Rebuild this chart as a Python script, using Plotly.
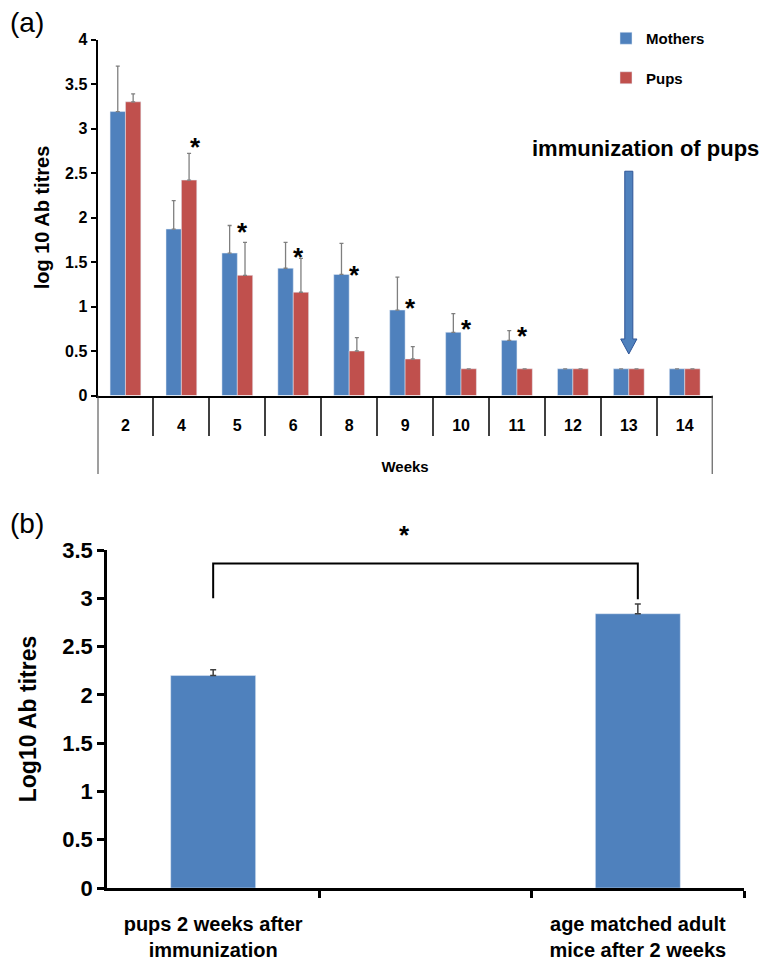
import plotly.graph_objects as go

# ---------------- data ----------------
weeks = ["2", "4", "5", "6", "8", "9", "10", "11", "12", "13", "14"]
mothers = [3.19, 1.87, 1.60, 1.43, 1.36, 0.96, 0.71, 0.62, 0.30, 0.30, 0.30]
mothers_err = [0.51, 0.32, 0.31, 0.29, 0.35, 0.37, 0.21, 0.11, 0.0, 0.0, 0.0]
pups = [3.30, 2.42, 1.35, 1.16, 0.50, 0.41, 0.30, 0.30, 0.30, 0.30, 0.30]
pups_err = [0.09, 0.30, 0.37, 0.38, 0.15, 0.14, 0.0, 0.0, 0.0, 0.0, 0.0]
star_weeks = ["4", "5", "6", "8", "9", "10", "11"]
star_y = [2.86, 1.90, 1.62, 1.42, 1.05, 0.82, 0.74]
immunization_week = "13"

b_groups = ["pups 2 weeks after<br>immunization", "", "age matched adult<br>mice after 2 weeks"]
b_values = [2.20, None, 2.84]
b_err = [0.06, None, 0.10]
b_bracket_top = 3.36
b_bracket_leg = 3.0
b_star_y = 3.72

BLUE = "#4F81BD"
RED = "#C0504D"
FONT = "Liberation Sans"
W, H = 766, 960


def py(p):
    return 1 - p / H


def px(p):
    return p / W


xa = list(range(len(weeks)))
xb = list(range(len(b_groups)))

fig = go.Figure()
fig.add_trace(go.Bar(
    x=xa, y=mothers, name="Mothers", marker_color=BLUE, legendgroup="m",
    error_y=dict(type="data", array=mothers_err, arrayminus=[0] * len(weeks),
                 color="#7f7f7f", thickness=1.3, width=2),
    xaxis="x", yaxis="y"))
fig.add_trace(go.Bar(
    x=xa, y=pups, name="Pups", marker_color=RED, legendgroup="p",
    error_y=dict(type="data", array=pups_err, arrayminus=[0] * len(weeks),
                 color="#7f7f7f", thickness=1.3, width=2),
    xaxis="x", yaxis="y"))
fig.add_trace(go.Bar(
    x=xb, y=b_values, marker_color=BLUE, showlegend=False, width=0.4,
    error_y=dict(type="data", array=b_err, arrayminus=[0, 0, 0],
                 color="#404040", thickness=1.5, width=3),
    xaxis="x2", yaxis="y2"))

tickfont_a = dict(family=FONT, size=16, color="black", weight="bold")
fig.update_layout(
    width=W, height=H, margin=dict(l=0, r=0, t=0, b=0, autoexpand=False),
    paper_bgcolor="white", plot_bgcolor="white",
    barmode="group", bargap=0.45, bargroupgap=0,
    showlegend=True,
    legend=dict(x=px(606), y=py(22), xanchor="left", yanchor="top",
                font=dict(family=FONT, size=15, color="black", weight="bold"),
                tracegroupgap=17, itemwidth=30, bgcolor="rgba(0,0,0,0)"),
    xaxis=dict(domain=[px(97.5), px(712.7)], range=[-0.5, len(weeks) - 0.5],
               automargin=False,
               tickmode="array", tickvals=xa, ticktext=weeks, ticks="",
               ticklabelstandoff=14, tickfont=tickfont_a,
               showline=True, linecolor="black", linewidth=2, showgrid=False,
               zeroline=False, anchor="y",
               minor=dict(tickmode="array", tickvals=[i + 0.5 for i in xa[:-1]],
                          ticks="outside", ticklen=38, tickwidth=2,
                          tickcolor="#404040", showgrid=False),
               title=dict(text="Weeks", standoff=29,
                          font=dict(family=FONT, size=15, color="black", weight="bold"))),
    yaxis=dict(domain=[py(395.5), py(39.5)], range=[0, 4], dtick=0.5,
               automargin=False, tickformat="~g",
               ticks="outside", ticklen=5, tickwidth=2, tickcolor="black",
               tickfont=tickfont_a, showline=True, linecolor="black", linewidth=2,
               showgrid=False, zeroline=False, anchor="x",
               title=dict(text="log 10 Ab titres", standoff=10,
                          font=dict(family=FONT, size=20, color="black", weight="bold"))),
    xaxis2=dict(domain=[px(107), px(744)], range=[-0.5, len(b_groups) - 0.5],
                automargin=False,
                tickmode="array", tickvals=xb, ticktext=b_groups, ticks="",
                ticklabelstandoff=16,
                tickfont=dict(family=FONT, size=20, color="black", weight="bold"),
                showline=True, linecolor="black", linewidth=2.5, showgrid=False,
                zeroline=False, anchor="y2",
                minor=dict(tickmode="array", tickvals=[i + 0.5 for i in xb],
                           ticks="outside", ticklen=7, tickwidth=2.5,
                           tickcolor="black", showgrid=False)),
    yaxis2=dict(domain=[py(888), py(550)], range=[0, 3.5], dtick=0.5,
                automargin=False, tickformat="~g",
                ticks="outside", ticklen=7, tickwidth=2.5, tickcolor="black",
                tickfont=dict(family=FONT, size=22, color="black", weight="bold"),
                showline=True, linecolor="black", linewidth=2.5, showgrid=False,
                zeroline=False, anchor="x2",
                title=dict(text="Log10 Ab titres", standoff=20,
                           font=dict(family=FONT, size=23, color="black", weight="bold"))),
)

# outer category-box lines of panel (a)
for xv in (-0.5, len(weeks) - 0.5):
    fig.add_shape(type="line", xref="x", yref="paper", x0=xv, x1=xv,
                  y0=py(474), y1=py(395.5), line=dict(color="#404040", width=2))

# significance stars panel (a)
star_dx = {"4": 0.25}
for w, sy in zip(star_weeks, star_y):
    i = weeks.index(w)
    fig.add_annotation(x=i + star_dx.get(w, 0.1), y=sy, xref="x", yref="y",
                       text="*", showarrow=False, yshift=-6,
                       font=dict(family=FONT, size=26, color="black", weight="bold"))

# immunization arrow + label
ia = weeks.index(immunization_week)
shaft, head = 0.072, 0.145
y_top, y_head, y_tip = 2.52, 0.635, 0.466
path = (f"M {ia - shaft},{y_top} L {ia + shaft},{y_top} L {ia + shaft},{y_head} "
        f"L {ia + head},{y_head} L {ia},{y_tip} L {ia - head},{y_head} "
        f"L {ia - shaft},{y_head} Z")
fig.add_shape(type="path", xref="x", yref="y", path=path,
              fillcolor=BLUE, line=dict(color="#2F5597", width=1))
fig.add_annotation(x=ia + 0.29, y=2.78, xref="x", yref="y",
                   text="immunization of pups", showarrow=False,
                   font=dict(family=FONT, size=22, color="black", weight="bold"))

# bracket + star panel (b)
i0, i2 = 0, len(b_groups) - 1
fig.add_shape(type="path", xref="x2", yref="y2",
              path=f"M {i0},{b_bracket_leg} L {i0},{b_bracket_top} L {i2},{b_bracket_top} L {i2},{b_bracket_leg - 0.01}",
              line=dict(color="black", width=2))
y2dom = fig.layout.yaxis2.domain
star_b_paper = y2dom[0] + (y2dom[1] - y2dom[0]) * b_star_y / 3.5
fig.add_annotation(x=(i0 + i2) / 2 - 0.1, y=star_b_paper, xref="x2", yref="paper",
                   text="*", showarrow=False, yshift=-6,
                   font=dict(family=FONT, size=26, color="black", weight="bold"))

# panel labels
fig.add_annotation(x=px(8), y=py(22), xref="paper", yref="paper", text="(a)",
                   showarrow=False, xanchor="left", yanchor="middle",
                   font=dict(family=FONT, size=28, color="black"))
fig.add_annotation(x=px(8), y=py(523), xref="paper", yref="paper", text="(b)",
                   showarrow=False, xanchor="left", yanchor="middle",
                   font=dict(family=FONT, size=28, color="black"))

fig.write_html("out.html")
